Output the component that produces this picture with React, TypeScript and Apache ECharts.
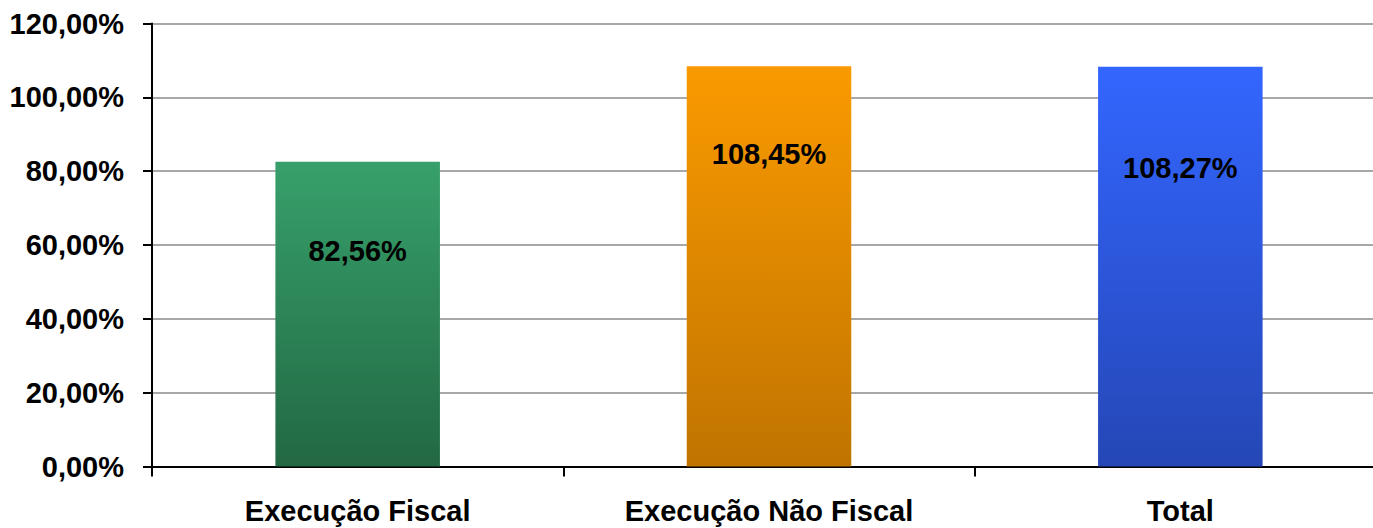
import React, { useEffect, useRef } from "react";
import * as echarts from "echarts";

const categories = ["Execução Fiscal", "Execução Não Fiscal", "Total"];
const values = [82.56, 108.45, 108.27];
const topColors = ["#37a06b", "#fa9a00", "#3366ff"];
const bottomColors = ["#226843", "#c07400", "#2547b6"];
const labelDistances = [75, 73, 87];

const FONT = "'Liberation Sans', Arial, sans-serif";

function fmt(v: number) {
  return v.toFixed(2).replace(".", ",") + "%";
}

export default function App() {
  const ref = useRef<HTMLDivElement>(null);
  useEffect(() => {
    if (!ref.current) return;
    const chart = echarts.init(ref.current, undefined, { renderer: "svg" });
    chart.setOption({
      animation: false,
      backgroundColor: "#ffffff",
      grid: { left: 152, right: 4, top: 23.5, bottom: 528 - 466.5 },
      xAxis: {
        type: "category",
        data: categories,
        boundaryGap: true,
        axisLine: { lineStyle: { color: "#000000", width: 2 } },
        axisTick: { show: true, length: 10, alignWithLabel: false, lineStyle: { color: "#000", width: 2 } },
        axisLabel: {
          margin: 30,
          color: "#000000",
          fontSize: 29,
          fontWeight: "bold",
          fontFamily: FONT,
          lineHeight: 29,
        },
      },
      yAxis: {
        type: "value",
        min: 0,
        max: 120,
        interval: 20,
        axisLine: { show: true, lineStyle: { color: "#000000", width: 2 } },
        axisTick: { show: true, length: 9, lineStyle: { color: "#000", width: 2 } },
        splitLine: { show: true, lineStyle: { color: "#a8a8a8", width: 2 } },
        axisLabel: {
          margin: 28,
          color: "#000000",
          fontSize: 29,
          fontWeight: "bold",
          fontFamily: FONT,
          formatter: (v: number) => fmt(v),
        },
      },
      series: [
        {
          type: "bar",
          barWidth: "40%",
          data: values.map((v, i) => ({
            value: v,
            itemStyle: {
              color: new echarts.graphic.LinearGradient(0, 0, 0, 1, [
                { offset: 0, color: topColors[i] },
                { offset: 1, color: bottomColors[i] },
              ]),
            },
            label: { distance: labelDistances[i] },
          })),
          label: {
            show: true,
            position: "insideTop",
            color: "#000000",
            fontSize: 29,
            fontWeight: "bold",
            fontFamily: FONT,
            lineHeight: 29,
            formatter: (p: any) => fmt(p.value),
          },
        },
      ],
    });
    return () => chart.dispose();
  }, []);
  return (
    <div style={{ position: "fixed", left: 0, top: 0, width: 1373, height: 528, overflow: "hidden", background: "#fff" }}>
      <div ref={ref} style={{ width: 1390, height: 528 }} />
    </div>
  );
}
